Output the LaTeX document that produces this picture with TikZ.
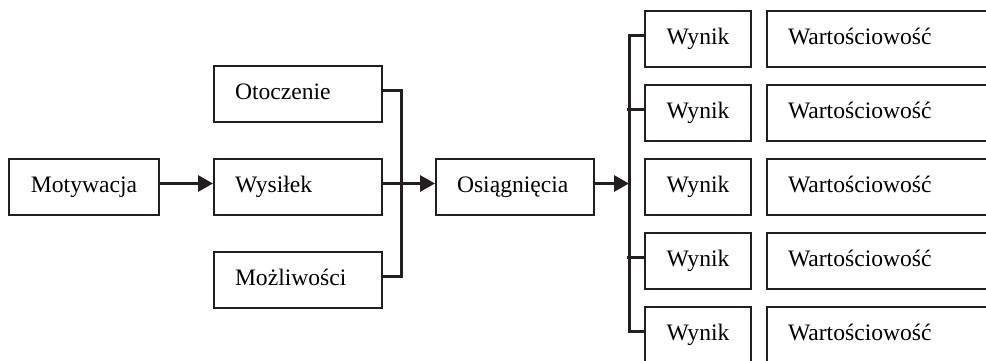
\documentclass[tikz,border=0pt]{standalone}
\usepackage{fontspec}
\setmainfont{Liberation Serif}
\usetikzlibrary{positioning, arrows.meta}
\definecolor{ink}{HTML}{231F20}

\tikzset{
  box/.style={draw=ink, line width=1pt, minimum height=28pt, inner ysep=0pt,
    text height=8pt, text depth=2.5pt, font=\fontsize{11.8}{13}\selectfont},
  leftbox/.style={box, inner xsep=10.5pt, text width=#1, align=left},
  conn/.style={draw=ink, line width=1.5pt},
  arr/.style={conn, -{Triangle[length=7.5pt,width=8pt]}}
}

\begin{document}
\begin{tikzpicture}
          % Frame of the picture (boxes on the right run past it)
          \useasboundingbox (0,0) rectangle (493pt,-180pt);

          % Left part: motivation and the three inputs
          \node (motyw) [box, minimum width=75pt, inner xsep=0pt] at (42pt,-93.25pt) {Motywacja};
          \node (wysilek) [leftbox=63pt, right=26.5pt of motyw] {Wysiłek};
          \node (otocz) [leftbox=63pt, above=17.25pt of wysilek] {Otoczenie};
          \node (mozliw) [leftbox=63pt, below=17.5pt of wysilek] {Możliwości};

          % Achievements
          \node (osiag) [leftbox=58pt, right=26pt of wysilek] {Osiągnięcia};

          % Results, one column
          \node (wynik3) [box, minimum width=53pt, inner xsep=0pt, right=24.5pt of osiag] {Wynik};
          \node (wynik2) [box, minimum width=53pt, inner xsep=0pt, above=8pt of wynik3] {Wynik};
          \node (wynik1) [box, minimum width=53pt, inner xsep=0pt, above=8pt of wynik2] {Wynik};
          \node (wynik4) [box, minimum width=53pt, inner xsep=0pt, below=8pt of wynik3] {Wynik};
          \node (wynik5) [box, minimum width=53pt, inner xsep=0pt, below=8pt of wynik4] {Wynik};

          % Values next to the results
          \node (wart1) [leftbox=109pt, right=7pt of wynik1] {Wartościowość};
          \node (wart2) [leftbox=109pt, right=7pt of wynik2] {Wartościowość};
          \node (wart3) [leftbox=109pt, right=7pt of wynik3] {Wartościowość};
          \node (wart4) [leftbox=109pt, right=7pt of wynik4] {Wartościowość};
          \node (wart5) [leftbox=109pt, right=7pt of wynik5] {Wartościowość};

          % Motivation leads to effort
          \draw [arr] ([yshift=1.5pt]motyw.east) -- ([yshift=1.5pt]wysilek.west);

          % Collecting line of the three inputs
          \draw [conn] ([yshift=2pt]otocz.east) -- ++(9pt,0) |- ([yshift=1.5pt]mozliw.east);
          \draw [arr] ([yshift=1.5pt]wysilek.east) -- ([yshift=1.5pt]osiag.west);

          % Achievements split into the results
          \coordinate (split) at ([xshift=17pt,yshift=1.5pt]osiag.east);
          \draw [arr] ([yshift=1.5pt]osiag.east) -- (split);
          \draw [conn] ([yshift=1.5pt]wynik1.west) -| (split) |- ([yshift=1.5pt]wynik5.west);
          \draw [conn] ([yshift=1.5pt]wynik2.west) -- ++(-8.5pt,0);
          \draw [conn] ([yshift=1.5pt]wynik4.west) -- ++(-8.5pt,0);

        \end{tikzpicture}
\end{document}
